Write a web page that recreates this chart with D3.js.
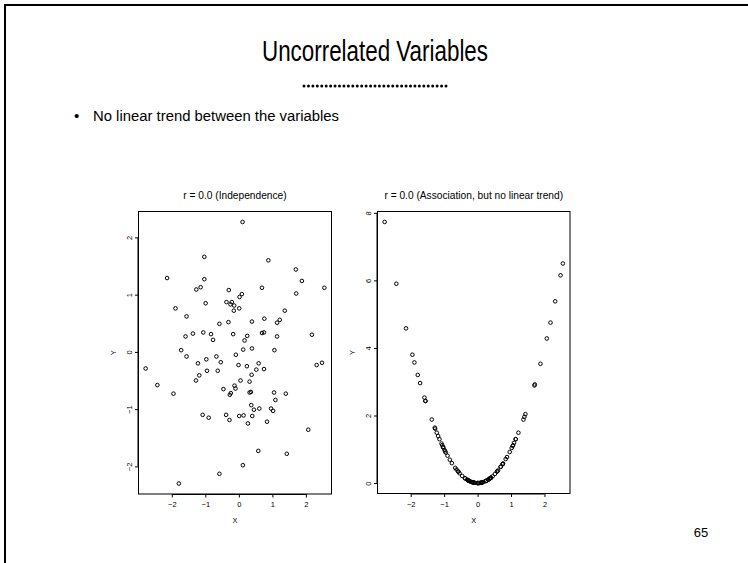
<!DOCTYPE html>
<html>
<head>
<meta charset="utf-8">
<script src="https://cdn.jsdelivr.net/npm/d3@7"></script>
<style>
  html, body { margin: 0; padding: 0; background: #fff; }
  svg { display: block; }
  text { font-family: "Liberation Sans", Arial, sans-serif; fill: #000; }
</style>
</head>
<body>
<svg id="chart" width="748" height="563"></svg>
<script>
// ---- Data ----
const slideTitle = "Uncorrelated Variables";
const bulletText = "No linear trend between the variables";
const pageNumber = "65";
const panelTitles = ["r = 0.0 (Independence)", "r = 0.0 (Association, but no linear trend)"];
const xLabel = "X";
const yLabel = "Y";

// X values (shared by both panels)
const xValues = [
  0.11, -1.03, 0.88, -2.14, 1.70, 1.88, -1.03, -1.27, -1.14, -0.30,
  0.69, 2.55, 1.71, 0.09, 0.02, -0.99, -0.37, -0.21, -0.25, -0.14,
  0.01, -0.15, -1.89, 1.37, -1.56, 0.76, 1.22, 0.39, 1.14, -0.31,
  -0.58, -1.37, -1.06, -1.59, -0.83, -0.17, 0.69, 0.75, 0.25, 1.14,
  2.18, -0.77, 0.17, -1.72, 0.13, 0.39, 1.06, -1.56, -0.97, -0.67,
  -0.09, -2.78, -1.22, -0.54, -0.01, 0.24, 0.59, 2.32, 2.48, -1.18,
  -0.95, -0.63, 0.52, 0.75, 0.38, -1.28, 0.05, 0.32, -2.43, -0.13,
  -0.10, -0.46, -1.95, -0.24, -0.27, 0.32, 0.36, 1.05, 1.40, 1.09,
  0.37, 0.45, 0.61, 0.96, 1.02, -1.08, -0.90, -0.38, -0.28, 0.01,
  0.14, 0.40, 0.27, 0.84, 2.07, 0.58, 1.43, 0.12, -0.58, -1.79
];
// Left panel Y (independent)
const yIndependent = [
  2.27, 1.66, 1.60, 1.29, 1.44, 1.24, 1.27, 1.09, 1.13, 1.08,
  1.12, 1.12, 1.02, 1.01, 0.96, 0.85, 0.87, 0.87, 0.83, 0.81,
  0.76, 0.72, 0.76, 0.72, 0.62, 0.58, 0.56, 0.53, 0.51, 0.52,
  0.49, 0.32, 0.34, 0.27, 0.31, 0.31, 0.33, 0.34, 0.28, 0.27,
  0.30, 0.21, 0.20, 0.03, 0.04, 0.06, 0.03, -0.08, -0.13, -0.08,
  -0.05, -0.29, -0.20, -0.18, -0.23, -0.25, -0.20, -0.23, -0.19, -0.41,
  -0.33, -0.33, -0.31, -0.30, -0.40, -0.50, -0.50, -0.52, -0.58, -0.59,
  -0.64, -0.65, -0.73, -0.72, -0.75, -0.71, -0.70, -0.71, -0.73, -0.84,
  -0.93, -1.01, -0.99, -0.99, -1.03, -1.10, -1.15, -1.10, -1.19, -1.12,
  -1.11, -1.12, -1.25, -1.22, -1.36, -1.73, -1.78, -1.98, -2.13, -2.30
];
// Right panel Y (association, no linear trend)
const yAssociation = [
  0.01, 1.06, 0.77, 4.58, 2.89, 3.53, 1.06, 1.61, 1.30, 0.09,
  0.48, 6.50, 2.92, 0.01, 0.00, 0.98, 0.14, 0.04, 0.06, 0.02,
  0.00, 0.02, 3.57, 1.88, 2.43, 0.58, 1.49, 0.15, 1.30, 0.10,
  0.34, 1.88, 1.12, 2.53, 0.69, 0.03, 0.48, 0.56, 0.06, 1.30,
  4.75, 0.59, 0.03, 2.96, 0.02, 0.15, 1.12, 2.43, 0.94, 0.45,
  0.01, 7.73, 1.49, 0.29, 0.00, 0.06, 0.35, 5.38, 6.15, 1.39,
  0.90, 0.40, 0.27, 0.56, 0.14, 1.64, 0.00, 0.10, 5.90, 0.02,
  0.01, 0.21, 3.80, 0.06, 0.07, 0.10, 0.13, 1.10, 1.96, 1.19,
  0.14, 0.20, 0.37, 0.92, 1.04, 1.17, 0.81, 0.14, 0.08, 0.00,
  0.02, 0.16, 0.07, 0.71, 4.28, 0.34, 2.04, 0.01, 0.34, 3.20
];
const xTicks = [-2, -1, 0, 1, 2];
const yTicksLeft = [-2, -1, 0, 1, 2];
const yTicksRight = [0, 2, 4, 6, 8];

// ---- Drawing ----
const svg = d3.select("#chart");

// slide frame (left & top edges)
svg.append("path")
  .attr("d", "M5,563 L5,5 L748,5")
  .attr("fill", "none").attr("stroke", "#000").attr("stroke-width", 2);

// slide title
svg.append("text")
  .attr("x", 375).attr("y", 61)
  .attr("text-anchor", "middle")
  .attr("font-size", 30)
  .attr("textLength", 226).attr("lengthAdjust", "spacingAndGlyphs")
  .text(slideTitle);

// dotted rule under title
const nDots = 33;
const dotScale = d3.scaleLinear().domain([0, nDots - 1]).range([304, 446]);
svg.append("g").selectAll("circle")
  .data(d3.range(nDots))
  .join("circle")
  .attr("cx", d => dotScale(d)).attr("cy", 86).attr("r", 1.5).attr("fill", "#000");

// bullet line
svg.append("text").attr("x", 74).attr("y", 121).attr("font-size", 15).text("\u2022");
svg.append("text").attr("x", 93).attr("y", 121).attr("font-size", 15.5)
  .attr("textLength", 246).attr("lengthAdjust", "spacingAndGlyphs")
  .text(bulletText);

// page number
svg.append("text").attr("x", 701).attr("y", 537).attr("text-anchor", "middle")
  .attr("font-size", 13).text(pageNumber);

function rPad(vals) {
  const [lo, hi] = d3.extent(vals);
  const p = (hi - lo) * 0.04;
  return [lo - p, hi + p];
}

function panel(box, xs, ys, yTicks, title) {
  const g = svg.append("g");
  const x = d3.scaleLinear().domain(rPad(xs)).range([box.x0, box.x1]);
  const y = d3.scaleLinear().domain(rPad(ys)).range([box.y1, box.y0]);

  // title
  g.append("text").attr("x", (box.x0 + box.x1) / 2).attr("y", box.y0 - 13)
    .attr("text-anchor", "middle").attr("font-size", 10.2).text(title);

  // x axis
  const xa = g.append("g").attr("transform", `translate(0,${box.y1})`)
    .call(d3.axisBottom(x).tickValues(xTicks).tickSize(3.5).tickPadding(4.5).tickFormat(d3.format("d")));
  xa.select(".domain").attr("d", `M${x(xTicks[0])},0.5H${x(xTicks[xTicks.length - 1])}`).attr("stroke", "#000");
  xa.selectAll("text").attr("font-size", 7.5).attr("font-family", "Liberation Sans, Arial, sans-serif").attr("fill", "#000");
  xa.selectAll("line").attr("stroke", "#000");

  // y axis
  const ya = g.append("g").attr("transform", `translate(${box.x0},0)`)
    .call(d3.axisLeft(y).tickValues(yTicks).tickSize(3.5).tickFormat(d3.format("d")));
  ya.select(".domain").attr("d", `M-0.5,${y(yTicks[0])}V${y(yTicks[yTicks.length - 1])}`).attr("stroke", "#000");
  ya.selectAll("line").attr("stroke", "#000");
  ya.selectAll("text")
    .attr("font-size", 7.5).attr("font-family", "Liberation Sans, Arial, sans-serif").attr("fill", "#000")
    .attr("x", null).attr("dy", null)
    .attr("text-anchor", "middle")
    .attr("transform", "translate(-9,0) rotate(-90)")
    .attr("dominant-baseline", "central");

  // box
  g.append("rect").attr("x", box.x0).attr("y", box.y0)
    .attr("width", box.x1 - box.x0).attr("height", box.y1 - box.y0)
    .attr("fill", "none").attr("stroke", "#000").attr("stroke-width", 1);

  // axis labels
  g.append("text").attr("x", (box.x0 + box.x1) / 2).attr("y", box.y1 + 29)
    .attr("text-anchor", "middle").attr("font-size", 7.5).text(xLabel);
  g.append("text")
    .attr("transform", `translate(${box.x0 - 25},${(box.y0 + box.y1) / 2}) rotate(-90)`)
    .attr("text-anchor", "middle").attr("dominant-baseline", "central")
    .attr("font-size", 7.5).text(yLabel);

  // points
  g.append("g").selectAll("circle")
    .data(xs.map((d, i) => [d, ys[i]]))
    .join("circle")
    .attr("cx", d => x(d[0])).attr("cy", d => y(d[1]))
    .attr("r", 1.8).attr("fill", "none").attr("stroke", "#000").attr("stroke-width", 1);
}

panel({x0: 138.5, x1: 331.5, y0: 211.5, y1: 494}, xValues, yIndependent, yTicksLeft, panelTitles[0]);
panel({x0: 377.5, x1: 570, y0: 211.5, y1: 493.5}, xValues, yAssociation, yTicksRight, panelTitles[1]);
</script>
</body>
</html>
